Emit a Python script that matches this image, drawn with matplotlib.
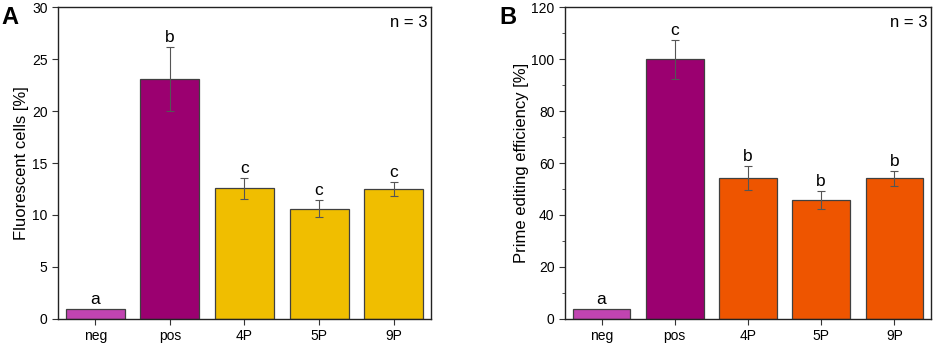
import numpy as np
import matplotlib
matplotlib.use('Agg')
import matplotlib.pyplot as plt
from matplotlib.ticker import MultipleLocator

plt.rcParams['font.family'] = ['Liberation Sans', 'DejaVu Sans']

# данные
groups = ['neg', 'pos', '4P', '5P', '9P']

fluor_mean = [0.9, 23.1, 12.55, 10.6, 12.5]
fluor_err = [0.0, 3.05, 1.05, 0.8, 0.65]
fluor_letters = ['a', 'b', 'c', 'c', 'c']

pe_mean = [3.9, 100.0, 54.3, 45.7, 54.1]
pe_err = [0.0, 7.5, 4.6, 3.4, 2.8]
pe_letters = ['a', 'c', 'b', 'b', 'b']

colA = ['#C144B1', '#9B0070', '#F0BE00', '#F0BE00', '#F0BE00']
colB = ['#C144B1', '#9B0070', '#EE5500', '#EE5500', '#EE5500']

fig = plt.figure(figsize=(9.41, 3.44), dpi=100)
axA = fig.add_axes([0.0616, 0.0735, 0.3964, 0.905])
axB = fig.add_axes([0.6004, 0.0735, 0.389, 0.905])


def panel(ax, mean, err, letters, colors, ymax, major, minor, ylabel, gap):
    x = np.arange(len(groups))
    ax.bar(x, mean, width=0.79, color=colors, edgecolor='#404040', linewidth=0.9, zorder=2)
    for i in range(len(x)):
        if err[i] > 0:
            ax.errorbar(x[i], mean[i], yerr=err[i], fmt='none', ecolor='#555555',
                        elinewidth=0.8, capsize=3, capthick=0.8, zorder=3)
        ax.text(x[i], mean[i] + err[i] + gap, letters[i], ha='center', va='bottom',
                fontsize=12.5, color='black')
    ax.set_xlim(-0.5, 4.5)
    ax.set_ylim(0, ymax)
    ax.set_xticks(x)
    ax.set_xticklabels(groups, fontsize=10)
    ax.yaxis.set_major_locator(MultipleLocator(major))
    if minor:
        ax.yaxis.set_minor_locator(MultipleLocator(minor))
    ax.tick_params(axis='y', which='major', direction='out', length=4, labelsize=10,
                   colors='#333333', labelcolor='black')
    ax.tick_params(axis='y', which='minor', direction='out', length=2.5, colors='#333333')
    ax.tick_params(axis='x', direction='out', length=4, labelsize=10, colors='#333333',
                   labelcolor='black')
    ax.set_ylabel(ylabel, fontsize=12, labelpad=2)
    for s in ax.spines.values():
        s.set_linewidth(1.0)
        s.set_color('#222222')
    ax.text(0.99, 0.975, 'n = 3', transform=ax.transAxes, ha='right', va='top', fontsize=12)


panel(axA, fluor_mean, fluor_err, fluor_letters, colA, 30, 5, None,
      'Fluorescent cells [%]', 0.2)
panel(axB, pe_mean, pe_err, pe_letters, colB, 120, 20, 10,
      'Prime editing efficiency [%]', 0.8)

fig.text(0.001, 0.95, 'A', fontsize=17, fontweight='bold', va='center', ha='left')
fig.text(0.531, 0.95, 'B', fontsize=17, fontweight='bold', va='center', ha='left')

fig.savefig('out.png', dpi=100)
